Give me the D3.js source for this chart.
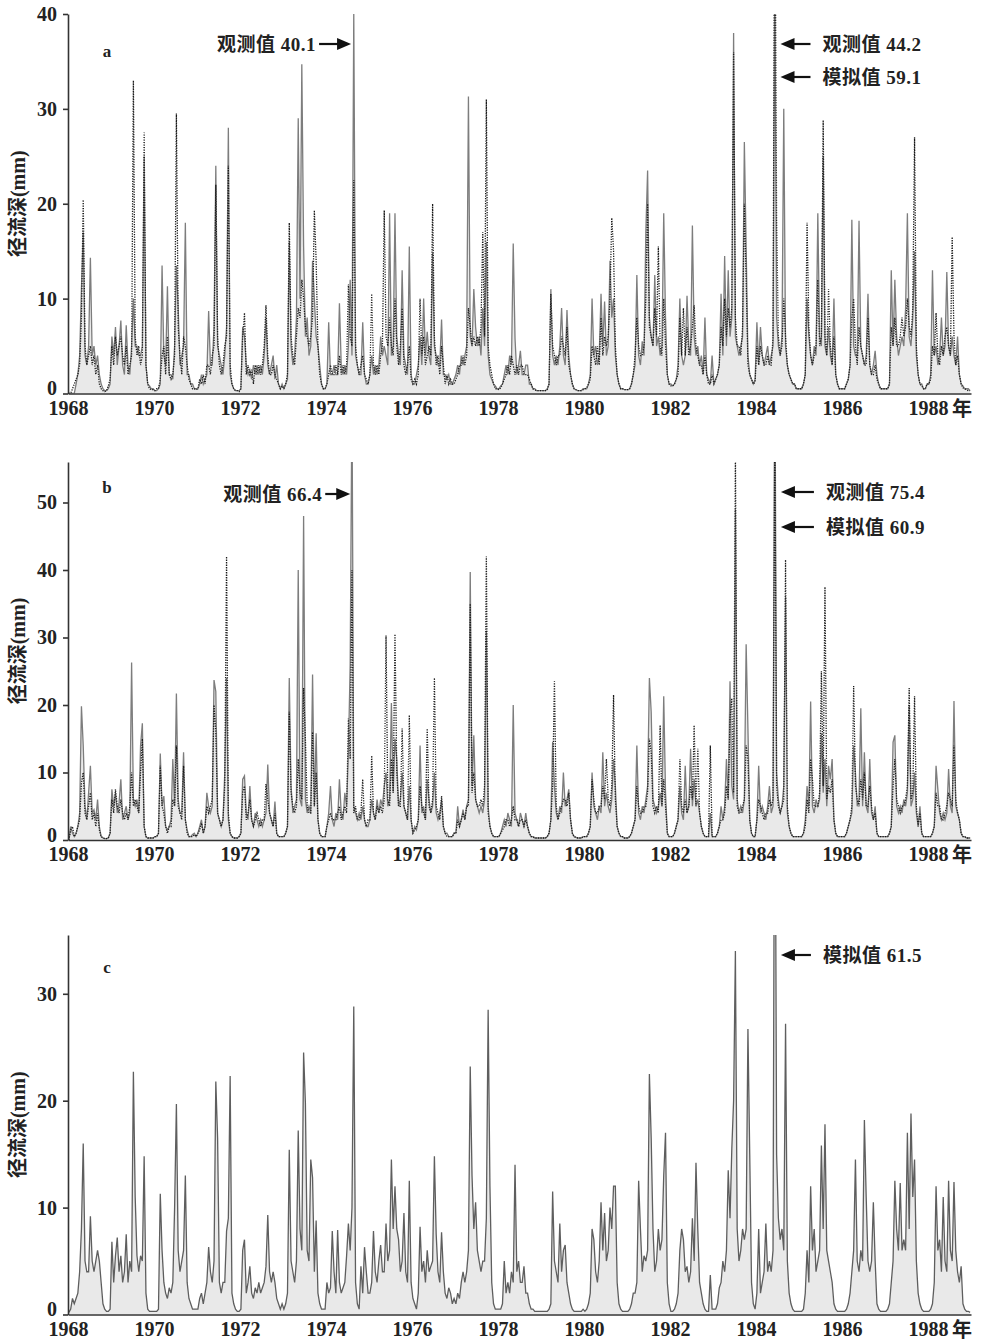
<!DOCTYPE html>
<html>
<head>
<meta charset="utf-8">
<script src="https://cdn.jsdelivr.net/npm/d3@7"></script>
<style>
body { margin: 0; background: #fff; }
svg text { font-family: "Liberation Serif", "Noto Sans CJK SC", serif; font-weight: bold; fill: #222; }
.axis path, .axis line { stroke: #333; stroke-width: 1.6; }
</style>
</head>
<body>
<svg width="981" height="1342"></svg>
<script>
// half-month runoff depth (mm), 24 values per year, 1968-1988
const aObs = [
 0,0,0,0,1,2,4,11,17,4,3,5,14.3,4,5,3,4,2,1,0.5,0.3,0.3,0.5,1,
 6,4,7,3,5,7.7,3,2,7.2,3,2,5,10,5,5,4,4,5,25,3,1,0.8,0.5,0.5,
 0.3,0.3,0.5,1,13.5,4,3,11.3,2,2,1.5,5,13.5,9,3,4,5,18,2,2,1,1,0.5,0.5,
 0.5,1,2,1,1.5,2,8.7,3,3,7,24,5,4,3,2,4,7,28,2,1,0.5,0.3,0.3,0.3,
 0.5,7,6,3,2,2.5,1.5,3,2,3,2,3,2,4,8,3,2,3,4,1.5,3,1,0.5,1,
 0.5,1,1.5,16,5,3,4,8,29,10,34.7,15.5,6,8,4,5,14,10,6,5,3,1,0.5,0.5,
 1,7.5,2,2,3,2,2,9.5,3,2,3,2,5,12,4,40.1,4,3,2,2,7.5,2,1,1,
 2,4,2,3,2,3,6,4,5,4,3,19,4,5,19,6,4,3,13,4,3,2,15.5,2,
 1,1,2,3,6,3,10,4,6.5,4,3,14.8,5,4,3,3,7.8,2,2,1.5,2,1,1,1.5,
 2,3,2,4,3,4,5,31.3,6,5,11,7,5,6,4,9,5,16,4,2,1.5,1,0.8,0.5,
 0.5,0.8,1,2,3,2,4,3,15.8,5.8,2,3,4.5,2,2,3,3,1,1,0.5,0.5,0.3,0.3,0.3,
 0.3,0.3,0.3,0.5,1,11,4,3,4,3,5,9,4,3,8.8,4,2,1,0.5,0.4,0.3,0.3,0.3,0.5,
 0.5,0.5,1,2,10,4,5,3,4,10.5,5,9.7,4,5,14,8,10,4,2,1,0.5,0.5,0.4,0.4,
 0.4,0.5,1,2,3,12.5,4,3,5.5,4,17,23.5,8,6,5,12.5,5,6,4,5,19,8,2,1,
 1,0.8,1,1.5,3,10,4,3,4,10.3,5,4,17.7,6,4,5,3,4,2,8,2,1.5,1,4,
 1,1.5,2,3,10.5,4,14.5,5,13,6,8,38,6,5,4,5,6,26.5,15.5,4,2,1.5,1,1.5,
 7.5,3,7,4,3,4,5,3,4,5,44.2,8,5,4,6,30,5,3,2,1.5,1,1,0.5,0.5,
 0.5,0.5,1,2,10,6,4,3,5,4,19,6,5,25,5,4,7,4,3,10,2,1,0.5,0.5,
 0.5,0.5,1,1.5,3,18.3,5,4,4,18.2,5,4,3,4,10.5,3,2,3,4.5,2,1,0.5,0.5,0.5,
 0.5,0.5,1,13,5,12,6,4,5,6,5,9,19,6,5,8,15,4,2,1,1,0.5,0.5,1,
 1,2,13,4,5,3,4,8,4,5,12.8,5,4,6,4,3,6,2,1,0.8,0.5,0.5,0.5,0.3
];
const aSim = [
 0,0,0.5,1,1.5,2,3,8,20.4,5,3,4,5,3,4,2,3,1,0.5,0.3,0.2,0.3,0.8,1.5,
 5,3,6,4,5,6,4,3,5,2,3,4,33,6,4,5,3,4,27.5,3,1,0.5,0.4,0.4,
 0.3,0.5,0.5,1.5,4,5,2,6,2,1.5,2,4,29.5,7,4,2,6,5,3,1.5,1,0.5,0.5,0.4,
 0.5,1.5,1,2,1,3,3,2,4,5,22,6,3,2,3,5,6,24,3,1,0.5,0.3,0.3,0.2,
 0.5,6,8.5,2,3,2,2.5,1,3,2,3,2,3,5,9.3,4,2,2,3,2,1.5,1,0.5,0.8,
 0.5,1,2,18,6,4,3,6,9,8,12,10,7,6,5,6,8,19.3,14,5,2,1,0.5,0.5,
 1,2,3,2,2,3,2,4,2,3,2,3,11.5,6,5,22.5,5,3,2,3,4,2,1.5,1,
 2,10.5,3,2,3,2,4,5,19.3,6,5,8,5,4,10,5,3,5,9,3,2,3,5,1.5,
 1,1.5,1,2,10,4,6,3,4,5,4,20,6,3,4,2,5,3,1,2,1,1.5,1,1,
 1.5,2,3,3,4,3,4,9,7,5,6,5,6,5,7,17,6,31,5,3,2,1,0.5,0.5,
 0.4,0.6,1,1.5,2,3,2,4,3,2,3,2,3,3,2,2,2,1.5,1,0.5,0.4,0.3,0.3,0.3,
 0.3,0.3,0.3,0.4,1,10.5,5,4,3,4,4,6,5,4,7,3,2,1,0.5,0.4,0.3,0.3,0.3,0.4,
 0.5,0.6,1,1.5,5,4,3,5,3,8,4,6,5,6,10,18.5,15,5,2,1,0.5,0.5,0.4,0.4,
 0.4,0.5,1,2,4,8,5,4,4,5,10,20,7,6,5,9,6,15.5,5,4,10,5,2,1,
 0.8,0.8,1,1.5,2,8,4,9,4,7,4,5,7,9.3,5,4,3,3,2,4,2,1,1,2,
 1,1.5,2,3,7,5,10,6,9,7,9,36,8,5,5,4,7,20,12,3,2,1.5,1,1.2,
 5,3,5,4,3,3,4,3,3,6,59.1,18.5,6,4,5,10,6,3,2,1.5,1,1,0.5,0.5,
 0.5,0.5,1,2,18,7,4,3,4,5,12,5,6,28.8,6,4,11,5,3,6,2,1,0.5,0.5,
 0.5,0.5,1,1.5,3,8,10,5,3,7,5,4,3,3,8,3,2,2,3,1.5,1,0.5,0.5,0.5,
 0.5,0.5,1,7,5,8,5,5,6,8,6,7,10,7,6,9,27,5,2,1,0.8,0.5,0.5,1,
 1,1.5,5,4,8.5,4,3,5,4,6,7,5,4,16.5,6,3,4,2,1,0.6,0.5,0.4,0.3,0.3
];
const bObs = [
 0,2,1,0.5,1,2,4,19.8,14,5,3,7,11,4,4.5,3,6,2,0.5,0.3,0.2,0.2,0.3,1,
 7.5,5,7,4,5.5,9,3,4,5,3,4,26.3,6,5,6,4,14,17.3,2,0.5,0.3,0.3,0.3,0.3,
 0.5,0.5,1,12.8,5,6.5,2,1.5,2,3,12,5,21.7,6,4,4,13,3,1.5,0.5,0.5,0.8,1,0.5,
 1,2,3,1,2,7,5,4,5,23.7,22,4,3,2,3,10,24,3,1,0.5,0.3,0.3,0.3,0.5,
 1,9,9.5,4,3,8,3,2,4,3,2,3,2,3,4,11.2,4,3,2,5.7,1,0.5,0.5,0.5,
 0.5,1,2,24,8,4,5,6,40,6,5,48,6,4,5,4,24.5,5,15.8,3,1,0.5,0.5,0.5,
 2,4,8,3,2,4,3,9,4,3,7,5,13,26,66.4,5,4,3,4,3,5,3,2,2,
 3,6,4,3,6,4,6,5,8,10,5,6,20.3,7,15,12,5,6,10,5,4,3,8,3,
 1,2,1.5,3,14,4,5,3,9,6,4,5,10,4,3,4,6,2,1,1,0.5,0.5,0.5,1,
 1,5,2,3,4.5,3,5,6,39.7,8,15.5,6,5,4,5,4,6,31,5,2,1,0.5,0.5,0.5,
 0.5,1,2,3,2,4,3,2,20,4,3,2,4,3,2,4,2,1,0.5,0.5,0.3,0.3,0.3,0.3,
 0.3,0.3,0.3,0.5,1,3,14.5,8,4,3,5,4,10,5,6,7.5,3,1,0.5,0.4,0.3,0.3,0.3,0.5,
 0.5,0.5,1,2,10,5,4,3,5,4,13,5,7,5,4,6,12,8,2,1,0.5,0.5,0.3,0.3,
 0.3,0.5,1,2,3,14,4,3,5,4,6,8,24,19,6,5,4,5,7,5,21.3,7,1,0.5,
 0.5,0.5,1,2,3,8,4,3,11,4,5,13.5,5,9,5,6,4,2,1,0.5,0.5,0.5,4,0.5,
 0.5,0.5,1,2,5,3,5,12,6,23.5,8,6,49,6,4,5,4,6,29,16.5,3,1,0.5,0.5,
 3,11,4,5,4,3,5,8,4,5,75.4,10,6,4,5,8,36,4,2,1,0.5,0.5,0.5,0.5,
 0.5,0.5,1,3,8,5,20.5,5,4,6,5,6,15.8,7,12,5,11,9,12,3,1,0.5,0.5,0.5,
 0.5,0.5,1,2,3,4,14,10,5,6,19.5,5,13,5,4,12,4,3,5,1,0.5,0.5,0.5,0.5,
 0.5,0.5,1,2,14.5,15.5,5,4,5,4,6,5,7,20,5,6,10,4,2,5,1,0.5,0.5,0.5,
 0.5,0.5,1,2,11,7.5,4,3,4,3,4,10.5,5,4,20.6,5,4,3,1,0.5,0.5,0.3,0.3,0.3
];
const bSim = [
 0,1.5,2,0.5,1,2,3,8.5,10,4,3,5,7,3,4,2,4,1.5,0.5,0.3,0.2,0.2,0.3,1,
 6,4,7.5,5,4,6,4,3,4,3,5,10,5,6,5,4,10,15,2,0.5,0.3,0.3,0.3,0.3,
 0.5,0.5,1,11,5,4,2,1,2,2,6,5,14,5,4,3,11,3,1,0.5,0.5,0.5,0.8,0.5,
 1,1.5,2.5,1,2,5,4,5,6,20,16,4,3,2,3,8,42,4,1,0.5,0.3,0.3,0.3,0.5,
 1,7,8,3,4,6,3,2,3,4,3,2,3,3,8.3,6,4,3,2,4,1,0.5,0.5,0.5,
 0.5,1,2,19,7,5,4,5,12,7,6,22.5,15,5,4,4,16,5,10,3,1,0.5,0.5,0.5,
 2,3,4,3,3,3,4,5,3,4,5,4,18,12,40,4,5,3,3,4,9,3,2,3,
 3,12.5,4,3,5,4,5,4,6,30.3,6,5,12,7,30.5,10,5,5,16.5,5,4,3,18.5,3,
 1,1.5,2,3,8,5,4,3,16.5,5,4,6,24,5,4,3,6.5,2,1,0.5,0.5,0.5,0.5,1,
 1,3,2,3,4,3,5,5,35,7,10,6,5,5,6,5,8,42,4,2,1,0.5,0.5,0.5,
 0.5,1,1.5,2,3,3,2,3,5,3,3,2,3,3,2,3,2,1,0.5,0.5,0.3,0.3,0.3,0.3,
 0.3,0.3,0.3,0.5,1,3,8,23.5,5,3,4,5,6,6,5,7,3,1,0.5,0.4,0.3,0.3,0.3,0.5,
 0.5,0.5,1,2,9,6,4,4,5,5,8,6,12,6,5,8,21.5,6,2,1,0.5,0.5,0.3,0.3,
 0.3,0.5,1,2,3,8,5,4,4,5,5,7,15,13,5,4,5,4,17,5,9,5,1,0.5,
 0.5,0.5,1,2,3,12,5,4,6,4,5,8,6,17,5,13.5,4,2,1,0.5,0.5,0.5,14,0.5,
 0.5,0.5,1,2,3,3,4,8,6,18,21,7,58,5,4,4,5,6,14,12,3,1,0.5,0.5,
 3,6,5,4,3,4,4,6,5,6,60.9,8,5,4,5,6,41.5,5,2,1,0.5,0.5,0.5,0.5,
 0.5,0.5,1,2,6,4,12,9,5,5,5,7,25,8,37.5,6,8,7,9,3,1,0.5,0.5,0.5,
 0.5,0.5,1,2,3,5,22.8,8,6,5,9,6,10,5,5,8,5,3,4,1,0.5,0.5,0.5,0.5,
 0.5,0.5,1,2,8,12,6,5,4,5,5,6,8,22.5,6,7,21.3,5,2,4,1,0.5,0.5,0.5,
 0.5,0.5,1,2,7,5,5,3,3,4,5,7,6,5,14,6,4,3,1,0.5,0.5,0.3,0.3,0.3
];
const cSim = [
 0.2,0.5,1.5,1,1.5,2,4,8,16,5,4,4,9.2,5,4,5,6,5,3,1,0.5,0.3,0.3,0.5,
 6.8,3,5.5,7.2,4,5.5,3,4,7.5,3,5,4,22.7,11,5.5,4,5.5,5,14.8,2,0.5,0.3,0.3,0.3,
 0.3,0.3,0.5,11.3,6,3,2,1.5,2.5,2,3,10,19.7,6,4,5,6,13,3,1.5,1,0.5,0.5,0.5,
 0.5,1.5,2,1,2,3,6.3,4,3,5,21.8,16.5,3,2,3,3,7.8,9,22.3,2,1,0.5,0.3,0.3,
 0.5,6,7,2,3,4.5,2,1.5,2.5,2,3,2,2.5,3,4.5,9.3,4,3,4,3,1.5,1,0.5,1,
 0.5,1,2,15.4,5,4,3,5,17.2,8,6,24.5,19.8,6,5,14.5,12.8,4,8.8,2,1,0.5,0.5,0.5,
 3,2,2.5,7.8,4,2,7.9,3,2,2.5,3,5.5,8.5,6,10,28.8,3,1,0.5,4.5,2,6.3,4,2,
 2,3,7.8,4,3,5,6.5,4,4,8.5,5,6,14.5,8,12,8,7,4,5,9.5,4,3,12.5,3,
 1.5,1,0.5,2,8.2,4,5,3,6,4,4.5,5,14.8,7.5,4,3,7.7,4,2,1.5,2.5,2,1,1.5,
 1,2,1.5,3,4,3,4,6,23.2,13,8,10.5,6,5,4,5,5,9,28.5,12,3,1,0.5,0.5,
 0.5,0.5,1,5,2,3,2,4,3,14,4,5,3,3,4.5,2,2,1,0.5,0.5,0.3,0.3,0.3,0.3,
 0.3,0.3,0.3,0.3,0.5,1,11.5,5,4,3,8.5,4,6,6.5,3,2,1,0.5,0.3,0.3,0.3,0.3,0.3,0.5,
 0.3,0.5,1,2,8,7,4,3,5,10.5,6,9.5,5,6,10,8,12,12,3,1,0.5,0.3,0.3,0.3,
 0.3,0.5,1,2,2,3,12.5,8,4,5.5,5,6,22.5,16.5,8,4,5,8,6,7,13,17,3,1,
 0.3,0.3,0.5,1,2,6,8,7,4,4.5,3,4,9,5,14.2,8,3,2,1,0.5,0.3,0.3,3.7,0.5,
 0.5,0.5,1,2.5,3,5,4,6,13.5,9,15.5,20,34,8,5,6,8,7,8,26.7,15,3,1,0.5,
 2,8,2,3,4,8.5,4,5,4,6,61.5,15,9,7,8,6,27.2,5,2,1,0.5,0.3,0.3,0.3,
 0.3,0.3,0.5,2,6,3,12,6,8,4,5,6,15.8,8,17.8,6,5,4,3,1,0.5,0.3,0.3,0.3,
 0.3,0.3,0.5,1,2,4,6,14.5,5,4,6,5,18.2,11,5,4,5,10.5,5,1,0.5,0.3,0.3,0.3,
 0.3,0.5,1,3,5,12.5,8,6,12.3,6,7,6,17,8,18.8,11,14.5,5,2,1,0.5,0.3,0.3,0.3,
 0.3,0.5,1,3,12,6,7,4,11,5,4,12.5,6,5,12.4,6,4,3,4.5,1,0.5,0.3,0.3,0.2
];

const xTicks = [1968,1970,1972,1974,1976,1978,1980,1982,1984,1986,1988];
const aTicks = [0,10,20,30,40];
const bTicks = [0,10,20,30,40,50];
const cTicks = [0,10,20,30];

const svg = d3.select('svg');
const x = d3.scaleLinear().domain([1968, 1989]).range([68, 971]);
const tOf = i => 1968 + (i + 0.5) / 24;

const panels = [
  {id:'a', obs:aObs, sim:aSim, top:14, bottom:393.5, max:40, ticks:aTicks, labelY:57,
   notes:[{text:'观测值 40.1', side:'left', year:1974.63, y:44, len:32},
          {text:'观测值 44.2', side:'right', year:1984.43, y:44, len:30},
          {text:'模拟值 59.1', side:'right', year:1984.43, y:77, len:30}]},
  {id:'b', obs:bObs, sim:bSim, top:462, bottom:840, max:56, ticks:bTicks, labelY:493,
   notes:[{text:'观测值 66.4', side:'left', year:1974.61, y:494, len:25},
          {text:'观测值 75.4', side:'right', year:1984.44, y:492, len:33},
          {text:'模拟值 60.9', side:'right', year:1984.44, y:527, len:33}]},
  {id:'c', obs:null, sim:cSim, top:935, bottom:1314.5, max:35.5, ticks:cTicks, labelY:973,
   notes:[{text:'模拟值 61.5', side:'right', year:1984.44, y:955, len:30}]}
];

panels.forEach(p => {
  const y = d3.scaleLinear().domain([0, p.max]).range([p.bottom, p.top]);
  const g = svg.append('g');

  g.append('clipPath').attr('id', 'clip-' + p.id)
    .append('rect').attr('x', 68).attr('y', p.top)
    .attr('width', 971 - 68).attr('height', p.bottom - p.top);

  const line = d3.line().x((d, i) => x(tOf(i))).y(d => y(d));
  const area = d3.area().x((d, i) => x(tOf(i))).y0(y(0)).y1(d => y(d));
  const plot = g.append('g').attr('clip-path', 'url(#clip-' + p.id + ')');

  // dense daily record reads as a light grey wash in the print
  const base = p.obs || p.sim;
  plot.append('path').datum(base).attr('d', area)
    .attr('fill', '#c8c8c8').attr('fill-opacity', 0.4);

  if (p.obs) {
    plot.append('path').datum(p.obs).attr('d', line)
      .attr('fill', 'none').attr('stroke', '#7d7d7d').attr('stroke-width', 1.3);
    plot.append('path').datum(p.sim).attr('d', line)
      .attr('fill', 'none').attr('stroke', '#1a1a1a').attr('stroke-width', 1.3)
      .attr('stroke-dasharray', '1.2,1.3');
  } else {
    plot.append('path').datum(p.sim).attr('d', line)
      .attr('fill', 'none').attr('stroke', '#5e5e5e').attr('stroke-width', 1.3);
  }

  // axes
  const yAxis = g.append('g').attr('class', 'axis')
    .attr('transform', 'translate(68,0)')
    .call(d3.axisLeft(y).tickValues(p.ticks).tickSize(5).tickSizeOuter(0).tickPadding(6))
    .call(s => s.selectAll('text').attr('font-size', 20).attr('font-family', null));
  yAxis.selectAll('.tick text').filter(d => d === 0).attr('dy', '0.05em');
  g.append('g').attr('class', 'axis')
    .attr('transform', 'translate(0,' + p.bottom + ')')
    .call(d3.axisBottom(x).tickValues(xTicks).tickFormat(d3.format('d')).tickSize(0).tickSizeOuter(0).tickPadding(7))
    .call(s => s.selectAll('text').attr('font-size', 20).attr('font-family', null));
  g.append('text').attr('x', x(1988) + 24).attr('y', p.bottom + 22)
    .attr('font-size', 20).text('年');

  // y title and panel letter
  g.append('text')
    .attr('transform', 'translate(25,' + (p.top + p.bottom) / 2 + ') rotate(-90)')
    .attr('text-anchor', 'middle').attr('font-size', 20).text('径流深(mm)');
  g.append('text').attr('x', 107).attr('y', p.labelY)
    .attr('text-anchor', 'middle').attr('font-size', 17).text(p.id);

  // annotations
  p.notes.forEach(n => {
    const px = x(n.year);
    let tip, tail, tx, anchor;
    if (n.side === 'left') {
      tip = px - 2; tail = tip - n.len; tx = tail - 3; anchor = 'end';
    } else {
      tip = px + 6; tail = tip + n.len; tx = tail + 12; anchor = 'start';
    }
    const dir = n.side === 'left' ? 1 : -1;
    g.append('line').attr('x1', tail).attr('y1', n.y).attr('x2', tip - dir * 8).attr('y2', n.y)
      .attr('stroke', '#111').attr('stroke-width', 2.2);
    g.append('path')
      .attr('d', 'M' + tip + ',' + n.y + 'L' + (tip - dir * 14) + ',' + (n.y - 6) +
                 'L' + (tip - dir * 14) + ',' + (n.y + 6) + 'Z')
      .attr('fill', '#111');
    g.append('text').attr('x', tx).attr('y', n.y + 7)
      .attr('text-anchor', anchor).attr('font-size', 19).attr('letter-spacing', 0.5)
      .text(n.text);
  });
});
</script>
</body>
</html>
